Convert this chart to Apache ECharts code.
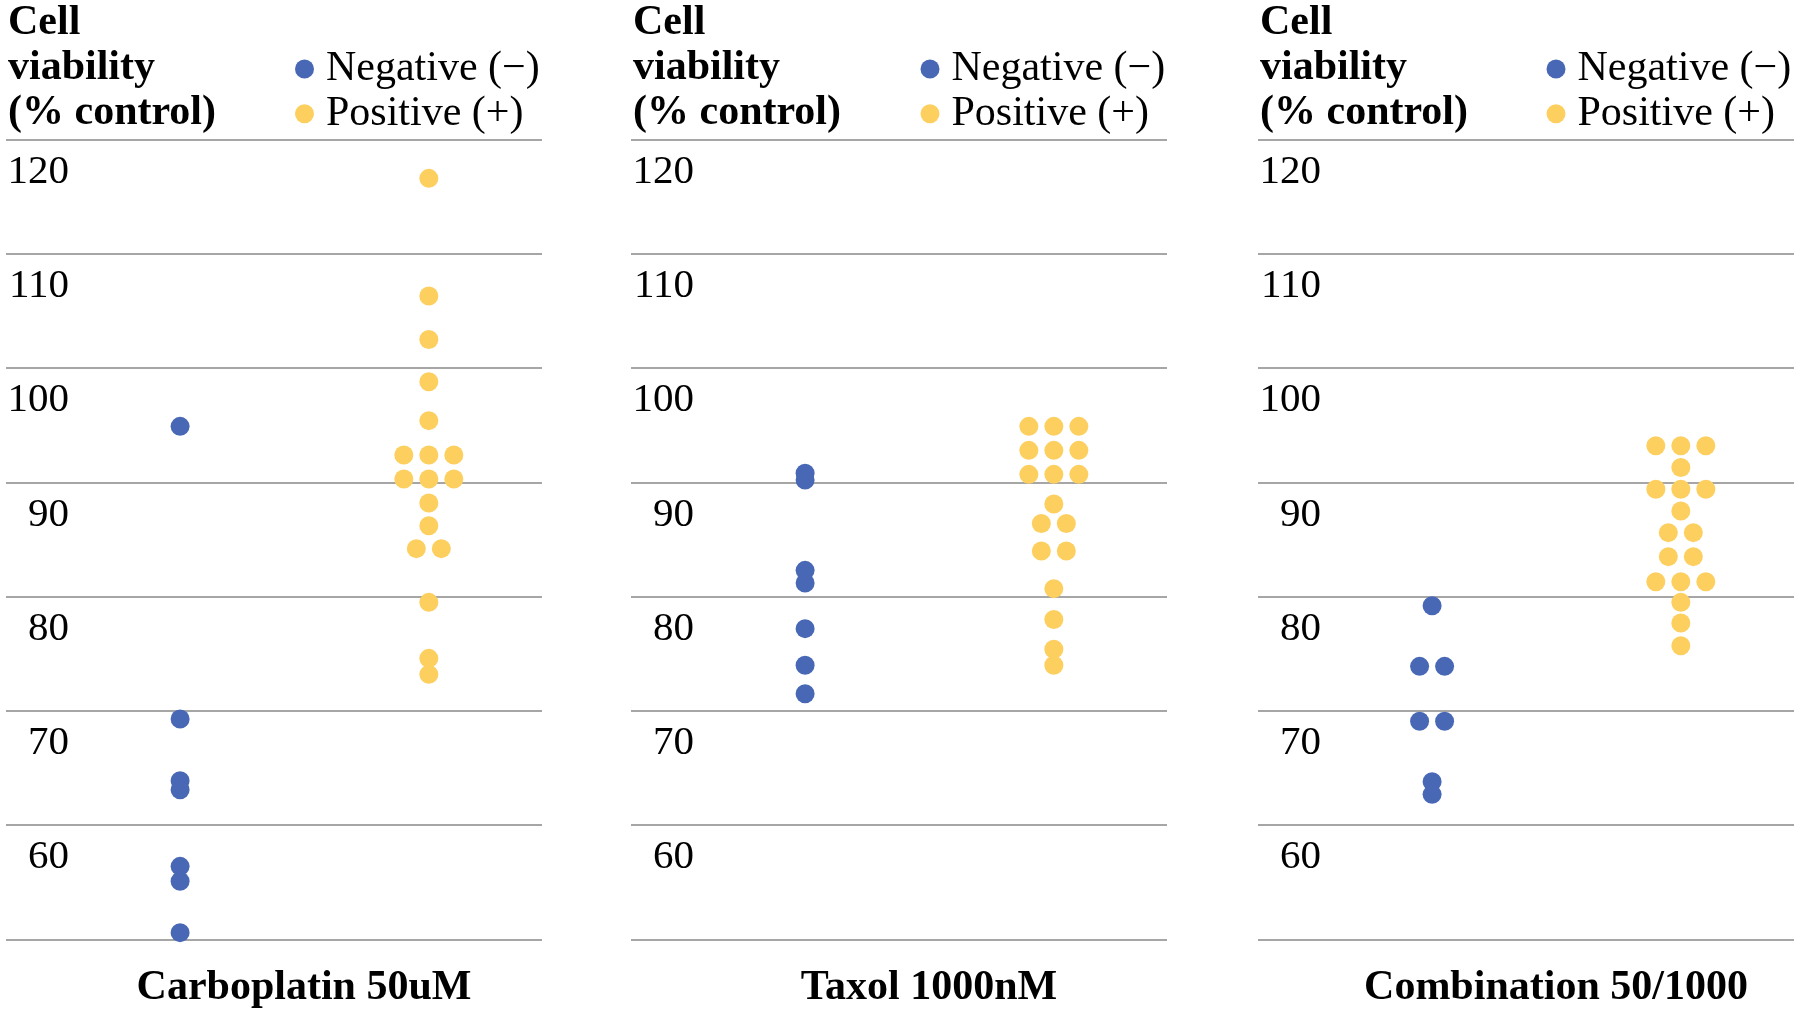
<!DOCTYPE html>
<html>
<head>
<meta charset="utf-8">
<script src="https://cdn.jsdelivr.net/npm/echarts@6/dist/echarts.min.js"></script>
<style>
html,body{margin:0;padding:0;background:#fff;}
#chart{width:1800px;height:1013px;}
</style>
</head>
<body>
<div id="chart"></div>
<script>
// ---- Data ----
const panelNames = ['Carboplatin 50uM', 'Taxol 1000nM', 'Combination 50/1000'];
const groupNames = ['Negative (\u2212)', 'Positive (+)'];
const yTickMin = 50, yTickMax = 120, yTickStep = 10;

const carboNeg = [94.9, 69.3, 63.9, 63.1, 56.4, 55.1, 50.6];
const carboPos = [116.6, 106.3, 102.5, 98.8, 95.4, 92.4, 92.4, 92.4, 90.3, 90.3, 90.3, 88.2, 86.2, 84.2, 84.2, 79.5, 74.6, 73.2];
const taxolNeg = [90.8, 90.2, 82.3, 81.2, 77.2, 74.0, 71.5];
const taxolPos = [94.9, 94.9, 94.9, 92.8, 92.8, 92.8, 90.7, 90.7, 90.7, 88.1, 86.4, 86.4, 84.0, 84.0, 80.7, 78.0, 75.4, 74.0];
const comboNeg = [79.2, 73.9, 73.9, 69.1, 69.1, 63.8, 62.7];
const comboPos = [93.2, 93.2, 93.2, 91.3, 89.4, 89.4, 89.4, 87.5, 85.6, 85.6, 83.5, 83.5, 81.3, 81.3, 81.3, 79.5, 77.7, 75.7];

const panelData = [[carboNeg, carboPos], [taxolNeg, taxolPos], [comboNeg, comboPos]];

// ---- Styling / layout ----
const FONT = '"Liberation Serif", "Times New Roman", serif';
const colors = ['#4868B6', '#FCCF5E'];
const gridLefts = [6, 631, 1258];
const gridWidth = 536;
const gridTop = 139.5, gridHeight = 800;
const legendLefts = [290, 915.5, 1541.5];
const DOT = 19, SLOT = 25;

// spread equal values side by side (dot-plot layout)
function swarm(values, groupIdx) {
  const counts = {}, seen = {};
  values.forEach(v => counts[v] = (counts[v] || 0) + 1);
  return values.map(v => {
    const n = counts[v];
    const k = seen[v] = (seen[v] === undefined ? 0 : seen[v] + 1);
    return { value: [groupIdx + 1, v], symbolOffset: [(k - (n - 1) / 2) * SLOT, 0] };
  });
}

const grid = [], xAxis = [], yAxis = [], series = [], legend = [], graphic = [];
panelData.forEach((groups, i) => {
  grid.push({ left: gridLefts[i], top: gridTop, width: gridWidth, height: gridHeight, containLabel: false });
  xAxis.push({ gridIndex: i, type: 'value', min: 0.3, max: 2.455, show: false });
  yAxis.push({
    gridIndex: i, type: 'value', min: yTickMin, max: yTickMax, interval: yTickStep,
    axisLine: { show: false }, axisTick: { show: false },
    splitLine: { show: true, lineStyle: { color: '#a6a6a6', width: 2 } },
    axisLabel: {
      inside: true, margin: 63, align: 'right', verticalAlign: 'top', padding: [12, 0, 0, 0],
      fontFamily: FONT, fontSize: 41, color: '#000',
      formatter: v => (v === yTickMin ? '' : String(v))
    }
  });
  groups.forEach((vals, g) => {
    series.push({
      type: 'scatter', name: groupNames[g], xAxisIndex: i, yAxisIndex: i,
      symbol: 'circle', symbolSize: DOT, itemStyle: { color: colors[g], opacity: 1 },
      data: swarm(vals, g), silent: true
    });
  });
  legend.push({
    data: groupNames, orient: 'vertical', left: legendLefts[i], top: 43,
    icon: 'circle', itemWidth: 33, itemHeight: DOT, itemGap: 2.8,
    textStyle: { fontFamily: FONT, fontSize: 42, lineHeight: 42, color: '#000' },
    selectedMode: false
  });
  graphic.push({
    type: 'text', left: gridLefts[i] + 2, top: 1,
    style: { text: 'Cell\nviability\n(% control)', font: 'bold 42px ' + FONT, lineHeight: 44.8, fill: '#000' }
  });
  graphic.push({
    type: 'text', x: gridLefts[i] + gridWidth / 2 + 30, y: 988.5,
    style: { text: panelNames[i], font: 'bold 42px ' + FONT, fill: '#000', textAlign: 'center', textVerticalAlign: 'middle' }
  });
});

const chart = echarts.init(document.getElementById('chart'), null, { renderer: 'canvas' });
chart.setOption({
  animation: false, backgroundColor: '#fff',
  grid, xAxis, yAxis, series, legend, graphic
});
</script>
</body>
</html>
